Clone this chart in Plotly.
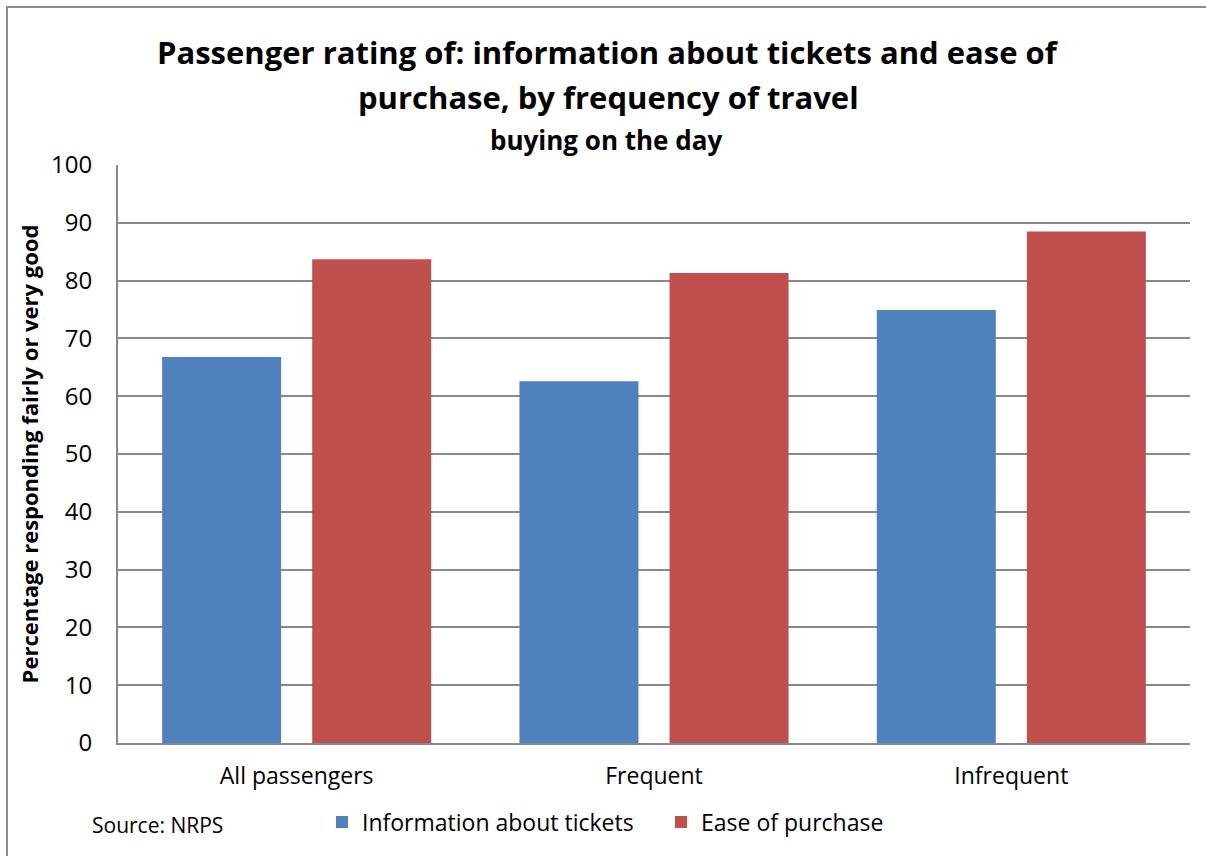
import plotly.graph_objects as go

categories = ["All passengers", "Frequent", "Infrequent"]
info_tickets = [66.8, 62.6, 74.9]
ease_purchase = [83.7, 81.3, 88.5]
series_names = ["Information about tickets", "Ease of purchase"]
y_ticks = list(range(0, 101, 10))

FONT = "Open Sans"
W, H = 1206, 856
L, R, T, B = 118, 16, 165, 113
PW, PH = W - L - R, H - T - B


def px_x(px):
    return (px - L) / PW


def px_y(py):
    return (H - B - py) / PH


fig = go.Figure()
fig.add_bar(x=categories, y=info_tickets, name=series_names[0],
            marker=dict(color="#4F81BD", line=dict(width=0)))
fig.add_bar(x=categories, y=ease_purchase, name=series_names[1],
            marker=dict(color="#C0504D", line=dict(width=0)))

grid = "#888888"
fig.update_layout(
    width=W, height=H,
    margin=dict(l=L, r=R, t=T, b=B, autoexpand=False),
    paper_bgcolor="white", plot_bgcolor="white",
    barmode="group", bargap=0.16, bargroupgap=0.207,
    font=dict(family=FONT, color="black"),
    showlegend=True,
    legend=dict(orientation="h", x=px_x(322), xanchor="left",
                y=px_y(822), yanchor="middle",
                font=dict(family=FONT, size=23, color="black"),
                entrywidth=294, entrywidthmode="pixels",
                bgcolor="rgba(0,0,0,0)"),
    xaxis=dict(showgrid=False, showline=True, linecolor=grid, linewidth=2,
               ticks="", tickfont=dict(family=FONT, size=23, color="black"),
               ticklabelstandoff=11, fixedrange=True),
    yaxis=dict(range=[0, 100], tickvals=y_ticks, showgrid=True,
               gridcolor=grid, gridwidth=2, showline=True, linecolor=grid,
               linewidth=2, zeroline=False, ticks="",
               tickfont=dict(family=FONT, size=24, color="black"),
               ticklabelstandoff=19,
               title=dict(text="<b>Percentage responding fairly or very good</b>",
                          font=dict(family=FONT, size=22, color="black"),
                          standoff=6)),
)

# Title lines
fig.add_annotation(text="<b>Passenger rating of: information about tickets and ease of</b>",
                   xref="paper", yref="paper", x=px_x(608), y=px_y(52),
                   xanchor="center", yanchor="middle", showarrow=False,
                   font=dict(family=FONT, size=31, color="black"))
fig.add_annotation(text="<b>purchase, by frequency of travel</b>",
                   xref="paper", yref="paper", x=px_x(608), y=px_y(97),
                   xanchor="center", yanchor="middle", showarrow=False,
                   font=dict(family=FONT, size=31, color="black"))
fig.add_annotation(text="<b>buying on the day</b>",
                   xref="paper", yref="paper", x=px_x(606), y=px_y(140),
                   xanchor="center", yanchor="middle", showarrow=False,
                   font=dict(family=FONT, size=26, color="black"))
fig.add_annotation(text="Source: NRPS",
                   xref="paper", yref="paper", x=px_x(90), y=px_y(825),
                   xanchor="left", yanchor="middle", showarrow=False,
                   font=dict(family=FONT, size=21, color="black"))

# Chart-area frame
fig.add_shape(type="rect", xref="paper", yref="paper",
              x0=px_x(7), x1=px_x(1230), y0=px_y(7), y1=px_y(880),
              line=dict(color="#8a8a8a", width=2), fillcolor="rgba(0,0,0,0)",
              layer="below")

fig.write_html("out.html")
